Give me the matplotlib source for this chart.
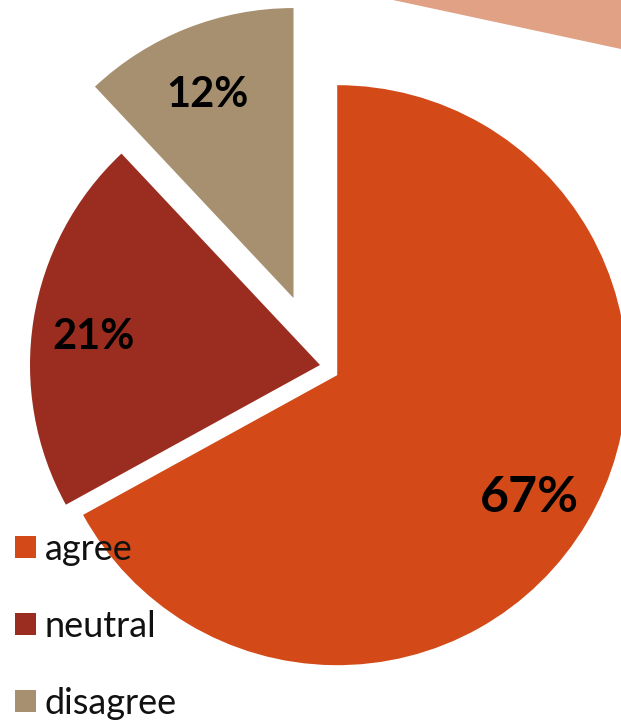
import matplotlib
matplotlib.use("Agg")
import matplotlib.pyplot as plt
import matplotlib.transforms as mtransforms

categories = ["agree", "neutral", "disagree"]
values = [67, 21, 12]
colors = ["#D34A18", "#9B2D20", "#A69070"]

W, H = 621, 720
R = 290
explode = [20, 0, 72]  # offsets in pixels (pie explode is absolute units)

fig = plt.figure(figsize=(W / 100, H / 100), dpi=100)
ax = fig.add_axes([0, 0, 1, 1])

# decorative background shape (top right)
ax.fill([393, 621, 621], [H, H, H - 49], color="#E0A185", lw=0, zorder=0)

wedges, texts, autotexts = ax.pie(
    values, colors=colors, explode=explode, startangle=90, counterclock=False,
    center=(320, H - 365), radius=R, autopct="%1.0f%%", pctdistance=0.78,
    frame=True, wedgeprops=dict(linewidth=0),
    textprops=dict(family=["Lato", "DejaVu Sans"], fontweight="bold", color="black", fontsize=30),
)
autotexts[0].set_fontsize(36)
shift = mtransforms.ScaledTranslation(-2 / 72, -5 / 72, fig.dpi_scale_trans)
for t in autotexts:
    t.set_transform(t.get_transform() + shift)

ax.set_xlim(0, W)
ax.set_ylim(0, H)
ax.set_aspect("auto")
ax.axis("off")

leg = ax.legend(wedges, categories, loc="lower left", bbox_to_anchor=(15 / W, 0 / H),
                frameon=False, prop=dict(family=["Lato", "DejaVu Sans"], size=26),
                handlelength=0.58, handleheight=0.58, handletextpad=0.25, labelspacing=1.22,
                borderpad=0, borderaxespad=0)
for t in leg.get_texts():
    t.set_color("#111111")

fig.savefig("out.png", dpi=100)
